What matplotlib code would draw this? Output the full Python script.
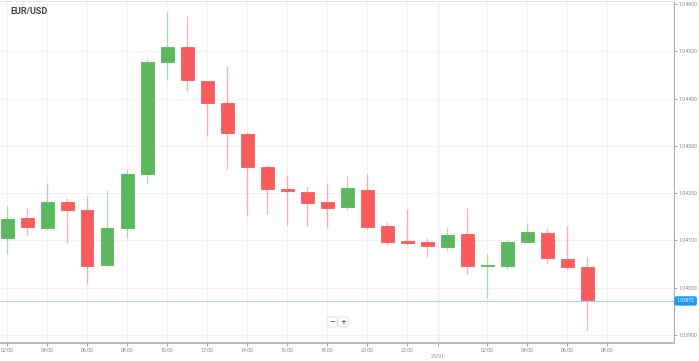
import numpy as np
import matplotlib
matplotlib.use('Agg')
import matplotlib.pyplot as plt

# hourly EUR/USD candles, x = hour counted from 22/01 00:00
hours = list(range(2, 32))
opens = [1.04105, 1.04147, 1.04126, 1.04181, 1.04164, 1.04048, 1.04126, 1.04241,
         1.04477, 1.04509, 1.04437, 1.04391, 1.04325, 1.04255, 1.04209, 1.04202,
         1.04181, 1.04171, 1.04207, 1.04131, 1.04099, 1.04097, 1.04086, 1.04114,
         1.04045, 1.04046, 1.04097, 1.04116, 1.04061, 1.04044]
highs = [1.04173, 1.04169, 1.04222, 1.04190, 1.04194, 1.04207, 1.04251, 1.04484,
         1.04583, 1.04575, 1.04437, 1.04469, 1.04329, 1.04260, 1.04238, 1.04215,
         1.04222, 1.04236, 1.04241, 1.04139, 1.04167, 1.04105, 1.04128, 1.04169,
         1.04071, 1.04101, 1.04137, 1.04126, 1.04131, 1.04065]
lows = [1.04071, 1.04112, 1.04124, 1.04095, 1.04008, 1.04044, 1.04105, 1.04219,
        1.04439, 1.04416, 1.04321, 1.04251, 1.04152, 1.04156, 1.04133, 1.04131,
        1.04126, 1.04164, 1.04124, 1.04090, 1.04090, 1.04065, 1.04078, 1.04029,
        1.03978, 1.04040, 1.04097, 1.04052, 1.04040, 1.03911]
closes = [1.04145, 1.04128, 1.04181, 1.04164, 1.04046, 1.04126, 1.04241, 1.04477,
          1.04509, 1.04439, 1.04391, 1.04327, 1.04255, 1.04209, 1.04205, 1.04179,
          1.04169, 1.04211, 1.04128, 1.04097, 1.04095, 1.04088, 1.04112, 1.04046,
          1.04047, 1.04097, 1.04118, 1.04063, 1.04044, 1.03972]
last_price = 1.03972

xtick_pos = [2, 4, 6, 8, 10, 12, 14, 16, 18, 20, 22, 26, 28, 30, 32]
xtick_labels = ['02:00', '04:00', '06:00', '08:00', '10:00', '12:00', '14:00', '16:00',
                '18:00', '20:00', '22:00', '02:00', '04:00', '06:00', '08:00']
day_pos = 23.55
day_label = '23/01'
yticks = [1.039, 1.040, 1.041, 1.042, 1.043, 1.044, 1.045, 1.046]

GREEN = '#5cb85c'
RED = '#f75b5b'

fig = plt.figure(figsize=(6.99, 3.61), dpi=100)
ax = fig.add_axes([0, 18 / 361, 674 / 699, 342 / 361])

o = np.array(opens)
c = np.array(closes)
up = c >= o
colors = [GREEN if u else RED for u in up]

ax.vlines(hours, lows, highs, colors=colors, alpha=0.45, lw=1, zorder=2)
ax.bar(hours, np.maximum(np.abs(c - o), 0.00002), bottom=np.minimum(o, c), width=0.65,
       color=colors, edgecolor=colors, linewidth=0.6, zorder=3)

ax.axhline(last_price, color='#a9d4f5', lw=0.9, zorder=4)
ax.text(1.004, last_price, '%.5f' % last_price, transform=ax.get_yaxis_transform(),
        fontsize=3.6, family='Roboto', color='white', va='center', ha='left', zorder=5,
        clip_on=False, bbox=dict(boxstyle='round,pad=0.3', fc='#2196f3', ec='#2196f3'))

ax.set_xlim(1.65, 35.35)
ax.set_ylim(1.038831, 1.046063)

ax.set_xticks(xtick_pos + [day_pos])
ax.set_xticklabels(xtick_labels + ['\n' + day_label])
ax.set_yticks(yticks)
ax.set_yticklabels(['%.5f' % v for v in yticks])
ax.yaxis.tick_right()
ax.tick_params(axis='both', labelsize=3.8, colors='#999999', length=2, width=0.6, pad=1.5)
for lab in ax.get_xticklabels() + ax.get_yticklabels():
    lab.set_color('#8a8a8a')
    lab.set_family('Roboto')

ax.grid(True, color='#f2f2f2', lw=0.8, zorder=0)
ax.axvline(day_pos, color='#dddddd', lw=1, zorder=1)

ax.spines['left'].set_visible(False)
ax.spines['top'].set_color('#e6e6e6')
ax.spines['right'].set_color('#aaaaaa')
ax.spines['bottom'].set_color('#bbbbbb')
ax.spines['bottom'].set_linewidth(1.5)

ax.text(10 / 674, 1 - 10 / 342, 'EUR/USD', transform=ax.transAxes, fontsize=6.5,
        fontweight='bold', family='Roboto', color='#444444', va='center', ha='left')

# zoom buttons
for xp, s in [(332, '\u2212'), (343, '+')]:
    fig.text(xp / 699, 1 - 322 / 361, s, fontsize=5, fontweight='bold', color='#555555',
             ha='center', va='center',
             bbox=dict(boxstyle='round,pad=0.3', fc='white', ec='#dddddd', lw=0.6))

fig.savefig('out.png', dpi=100)
